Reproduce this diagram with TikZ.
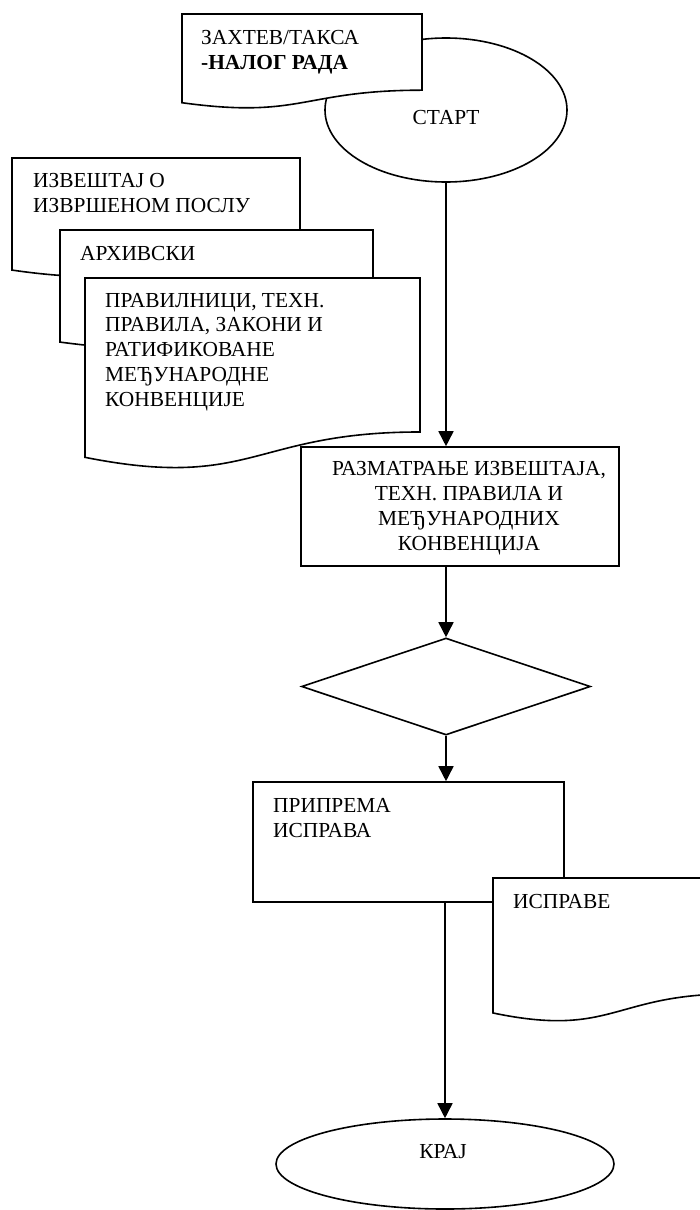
\documentclass[tikz,border=0pt]{standalone}
\usepackage{fontspec}
\setmainfont{Liberation Serif}
\usetikzlibrary{shapes.geometric,arrows.meta}

\tikzset{
  outline/.style={draw=black, line width=1.6pt, fill=white},
  flow/.style={draw=black, line width=1.6pt, -{Triangle[width=15pt,length=15pt]}},
  bodyfont/.style={font=\fontsize{21.4}{24.7}\selectfont},
  % multi-line labels are placed by the baseline of their last line
  txt/.style={bodyfont, anchor=base west, inner sep=0pt, align=left},
  ctxt/.style={bodyfont, anchor=base, inner sep=0pt, align=center},
  terminal/.style={outline, ellipse, inner sep=0pt},
  process/.style={outline, rectangle, inner sep=0pt},
  decision/.style={outline, diamond, inner sep=0pt},
}

% document symbol: rectangle with a wavy lower edge
% #1 name, #2 left, #3 top, #4 width, #5 height
\newcommand{\docsheet}[5]{%
  \draw[outline] (#2,#3) -- ({#2+#4},#3) -- ({#2+#4},{#3+0.802*#5})
    .. controls ({#2+0.5*#4},{#3+0.802*#5}) and ({#2+0.5*#4},{#3+1.1075*#5})
    .. (#2,{#3+0.934*#5}) -- cycle;
  \coordinate (#1) at (#2,#3);
}

\begin{document}
\begin{tikzpicture}[x=1pt,y=-1pt]
\useasboundingbox (0,0) rectangle (700,1210);
\fill[white] (0,0) rectangle (700,1210);
\clip (0,0) rectangle (700,1210);

% start
\node[terminal, minimum width=242pt, minimum height=144pt] (start) at (446,110) {};
\node[ctxt] (starttext) at (446,124) {СТАРТ};

% request / work order
\docsheet{req}{182}{14}{240}{95}
\node[txt] (reqtext) at (201,69) {ЗАХТЕВ/ТАКСА\\\textbf{-НАЛОГ РАДА}};

% stacked input documents
\docsheet{report}{12}{158}{288}{120}
\node[txt] (reporttext) at (33,212) {ИЗВЕШТАЈ О\\ИЗВРШЕНОМ ПОСЛУ};
\docsheet{archive}{60}{230}{313}{120}
\node[txt] (archivetext) at (80,260) {АРХИВСКИ};
\docsheet{rules}{85}{278}{335}{192}
\node[txt] (rulestext) at (105,406) {ПРАВИЛНИЦИ, ТЕХН.\\ПРАВИЛА, ЗАКОНИ И\\РАТИФИКОВАНЕ\\МЕЂУНАРОДНЕ\\КОНВЕНЦИЈЕ};

% review step
\node[process, minimum width=318pt, minimum height=119pt] (review) at (460,506.5) {};
\node[ctxt] (reviewtext) at (469,550) {РАЗМАТРАЊЕ ИЗВЕШТАЈА,\\ТЕХН. ПРАВИЛА И\\МЕЂУНАРОДНИХ\\КОНВЕНЦИЈА};

% decision
\node[decision, minimum width=289pt, minimum height=97pt] (check) at (446,686.5) {};

% preparation step
\node[process, minimum width=311pt, minimum height=120pt] (prep) at (408.5,842) {};
\node[txt] (preptext) at (273,837) {ПРИПРЕМА\\ИСПРАВА};

% output documents
\docsheet{docs}{493}{878}{240}{144.5}
\node[txt] (docstext) at (513,908) {ИСПРАВЕ};

% end
\node[terminal, minimum width=338pt, minimum height=90pt] (finish) at (445,1164) {};
\node[ctxt] (finishtext) at (443,1158) {КРАЈ};

% connectors
\draw[flow] (start.south) -- (start.south |- review.north);
\draw[flow] (check.north |- review.south) -- (check.north);
\draw[flow] (check.south) -- (check.south |- prep.north);
\draw[flow] (finish.north |- prep.south) -- (finish.north);
\end{tikzpicture}
\end{document}
